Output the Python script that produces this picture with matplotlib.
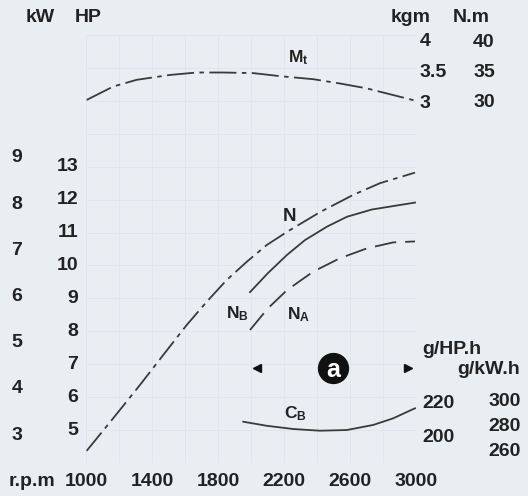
import matplotlib
matplotlib.use("Agg")
import matplotlib.pyplot as plt
from matplotlib.transforms import blended_transform_factory

plt.rcParams['font.family'] = ['Liberation Sans', 'DejaVu Sans']
plt.rcParams['mathtext.fontset'] = 'custom'
plt.rcParams['mathtext.rm'] = 'Liberation Sans'
plt.rcParams['mathtext.bf'] = 'Liberation Sans:bold'

# ---- data ----
rpm_ticks = [1000, 1400, 1800, 2200, 2600, 3000]
kw_ticks = [3, 4, 5, 6, 7, 8, 9]
hp_ticks = [5, 6, 7, 8, 9, 10, 11, 12, 13]
kgm_ticks = [3, 3.5, 4]
nm_ticks = [30, 35, 40]
ghp_ticks = [200, 220]
gkw_ticks = [260, 280, 300]

# torque Mt (kgm)
mt_rpm = [1004, 1165, 1307, 1509, 1671, 1832, 2014, 2176, 2378, 2539, 2701, 2862, 2994]
mt_kgm = [3.05, 3.27, 3.38, 3.46, 3.50, 3.50, 3.49, 3.44, 3.39, 3.32, 3.24, 3.13, 3.04]

# power N (HP)
n_rpm = [1004, 1165, 1327, 1468, 1610, 1732, 1853, 1974, 2095, 2218, 2418, 2618, 2782, 2994]
n_hp = [4.37, 5.36, 6.37, 7.28, 8.19, 8.90, 9.56, 10.11, 10.62, 11.02, 11.62, 12.14, 12.50, 12.82]

# power NB (HP)
nb_rpm = [1994, 2103, 2218, 2327, 2461, 2582, 2733, 2994]
nb_hp = [9.19, 9.77, 10.32, 10.77, 11.18, 11.48, 11.70, 11.91]

# power NA (HP)
na_rpm = [1994, 2101, 2218, 2376, 2539, 2703, 2861, 2994]
na_hp = [8.04, 8.69, 9.25, 9.81, 10.22, 10.52, 10.70, 10.73]

# consumption CB (g/HP.h)
cb_rpm = [1953, 2095, 2256, 2418, 2580, 2741, 2862, 2994]
cb_ghp = [209.0, 206.6, 204.7, 203.7, 204.1, 207.1, 211.0, 216.9]

# range "a" (rpm)
a_left, a_mid, a_right = 2034, 2499, 2953

W, H = 528, 496
bg = '#e9eef2'
ink = '#222222'
line_c = '#3a3a3a'

fig = plt.figure(figsize=(W / 100, H / 100), dpi=100)
fig.patch.set_facecolor(bg)

# plot box in pixels
x0, x1 = 86, 416
y_top, y_bot = 35, 463
ax = fig.add_axes([x0 / W, (H - y_bot) / H, (x1 - x0) / W, (y_bot - y_top) / H])
ax.set_facecolor(bg)
ax.set_xlim(1000, 3000)
ax.set_ylim(4, 17)
for s in ax.spines.values():
    s.set_visible(False)
ax.set_xticks(range(1000, 3001, 200))
ax.set_yticks(range(4, 18))
ax.grid(True, color='#e0e6eb', lw=0.7)
ax.tick_params(length=0, labelleft=False, labelbottom=False)


def lin_ylim(v_a, p_a, v_b, p_b):
    # value range for a twin axis, from two (value, pixel) pairs
    k = (v_b - v_a) / (p_a - p_b)
    return v_a - (y_bot - p_a) * k, v_a + (p_a - y_top) * k


def twin(lims):
    t = ax.twinx()
    t.set_ylim(*lims)
    for s in t.spines.values():
        s.set_visible(False)
    t.set_yticks([])
    return t


ax_kw = twin(lin_ylim(3, 435, 9, 158))
ax_hp = ax
ax_kgm = twin(lin_ylim(3, 103, 4, 42))
ax_nm = twin(lin_ylim(30, 102.5, 40, 42.5))
ax_ghp = twin(lin_ylim(200, 437, 220, 403))
ax_gkw = twin(lin_ylim(260, 452, 300, 402))

# curves
lw = 1.3
ax_kgm.plot(mt_rpm, mt_kgm, color=line_c, lw=lw, dashes=(15, 3, 2.5, 3))
ax.plot(n_rpm, n_hp, color=line_c, lw=lw, dashes=(13, 3, 2.5, 3))
ax.plot(nb_rpm, nb_hp, color=line_c, lw=lw)
ax.plot(na_rpm, na_hp, color=line_c, lw=lw, dashes=(12, 5))
ax_ghp.plot(cb_rpm, cb_ghp, color=line_c, lw=lw)

# tick labels
fs = 14


def colx(px):
    return (px - x0) / (x1 - x0)


def col_labels(axis, ticks, px, ha, fmt=str):
    tr = blended_transform_factory(ax.transAxes, axis.transData)
    for v in ticks:
        axis.text(colx(px), v, fmt(v), transform=tr, ha=ha, va='center',
                  fontsize=fs, fontweight='bold', color=ink, clip_on=False)


col_labels(ax_kw, kw_ticks, 17, 'center')
col_labels(ax_hp, hp_ticks, 78, 'right')
col_labels(ax_kgm, kgm_ticks, 420, 'left', lambda v: f"{v:g}")
col_labels(ax_nm, nm_ticks, 484, 'center')
col_labels(ax_ghp, ghp_ticks, 422, 'left')
col_labels(ax_gkw, gkw_ticks, 505, 'center')

tr_x = blended_transform_factory(ax.transData, fig.transFigure)
for r in rpm_ticks:
    ax.text(r, 1 - 482 / H, str(r), transform=tr_x, ha='center', va='center',
            fontsize=fs, fontweight='bold', color=ink, clip_on=False)


def fig_text(px, py, s, ha='center', size=fs):
    fig.text(px / W, 1 - py / H, s, ha=ha, va='center', fontsize=size,
             fontweight='bold', color=ink)


fig_text(40, 18, 'kW')
fig_text(88, 18, 'HP')
fig_text(411, 17, 'kgm')
fig_text(471, 17, 'N.m')
fig_text(422, 350, 'g/HP.h', ha='left')
fig_text(457, 369, 'g/kW.h', ha='left')
fig_text(32, 482, 'r.p.m')

# curve names
ax_kgm.text(2285, 3.75, r'$\mathbf{M_t}$', fontsize=12.5, color=ink, ha='center', va='center')
ax.text(2230, 11.5, r'$\mathbf{N}$', fontsize=13.5, color=ink, ha='center', va='center')
ax.text(1915, 8.55, r'$\mathbf{N_B}$', fontsize=12.5, color=ink, ha='center', va='center')
ax.text(2290, 8.5, r'$\mathbf{N_A}$', fontsize=12.5, color=ink, ha='center', va='center')
ax_ghp.text(2270, 213.5, r'$\mathbf{C_B}$', fontsize=12.5, color=ink, ha='center', va='center')

# range marker "a"
band_hp = 6.88
ax.plot([a_left], [band_hp], marker='<', color='#111111', ms=6, ls='none')
ax.plot([a_right], [band_hp], marker='>', color='#111111', ms=6, ls='none')
ax.plot([a_mid], [band_hp], marker='o', color='#111111', ms=21.5, ls='none')
ax.text(a_mid, band_hp - 0.05, 'a', color='white', fontsize=18, fontweight='bold',
        ha='center', va='center')

fig.savefig('out.png', dpi=100, facecolor=bg)
